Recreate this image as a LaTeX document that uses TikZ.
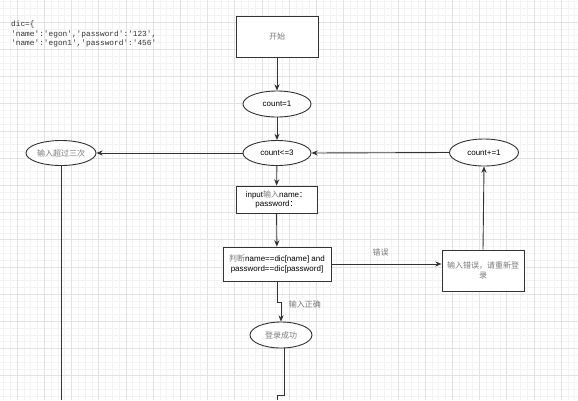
\documentclass[tikz,border=0pt]{standalone}
\usepackage{fontspec}
\setmainfont{Liberation Sans}
\setmonofont{Liberation Mono}
\newfontfamily\cjkfont{Noto Sans CJK SC}
\usepackage{xcolor}
\usepackage{tikz}
\usetikzlibrary{arrows.meta, positioning, shapes.geometric, calc}

\definecolor{inkline}{HTML}{333333}
\definecolor{zhgray}{HTML}{7A7A7A}
\definecolor{gridmajor}{HTML}{E2E2E2}
\definecolor{gridminor}{HTML}{F3F3F3}
\newcommand{\zh}[1]{{\cjkfont\color{zhgray}#1}}
\newcommand{\zhcolon}{{\cjkfont ：}}

\begin{document}
\begin{tikzpicture}[
  x=1pt, y=-1pt,
  font=\fontsize{8}{9.6}\selectfont,
  box/.style={draw=inkline, line width=0.9pt, fill=white, align=center, inner sep=2pt},
  oval/.style={draw=inkline, line width=0.9pt, ellipse, fill=white, inner sep=0pt},
  arr/.style={-{Stealth[length=2.2mm, width=1.8mm]}, line width=0.9pt, inkline},
  link/.style={line width=0.9pt, inkline},
]
\useasboundingbox (0,0) rectangle (578,400);
\fill[white] (0,0) rectangle (578,400);

% Background grid
\foreach \x in {3.4,10.2,...,578} \draw[gridminor, line width=0.4pt] (\x,0) -- (\x,400);
\foreach \y in {1.6,8.4,...,400} \draw[gridminor, line width=0.4pt] (0,\y) -- (578,\y);
\foreach \x in {17,44.2,...,578} \draw[gridmajor, line width=0.5pt] (\x,0) -- (\x,400);
\foreach \y in {22,49.2,...,400} \draw[gridmajor, line width=0.5pt] (0,\y) -- (578,\y);

% Dictionary note
\node[anchor=north west, align=left, inner sep=0pt, text=inkline,
  font=\ttfamily\fontsize{7.8}{9.4}\selectfont] (dict) at (11,21)
  {dic=\{\\'name':'egon','password':'123',\\'name':'egon1','password':'456'};

% Main column
\node[box, minimum width=82, minimum height=41] (start) at (277,36.5) {\zh{开始}};
\node[oval, minimum width=68, minimum height=26] (init) at (277,104) {count=1};
\node[oval, minimum width=68, minimum height=25] (check) at (277,153) {count<=3};
\node[box, minimum width=81, minimum height=27] (input) at (276.5,199.5)
  {input\zh{输入}name\zhcolon\\password\zhcolon};
\node[box, minimum width=108, minimum height=34] (judge) at (277,264)
  {\zh{判断}name==dic[name] and\\password==dic[password]};
\node[oval, minimum width=62, minimum height=26] (ok) at (281,335) {\zh{登录成功}};

% Side nodes
\node[oval, minimum width=70, minimum height=25] (over) at (61,153) {\zh{输入超过三次}};
\node[oval, minimum width=69, minimum height=27] (inc) at (484,152.5) {count+=1};
\node[box, minimum width=82, minimum height=41] (wrong) at (483,270.5)
  {\zh{输入错误，请重新登}\\\zh{录}};

% Free ends at the bottom edge
\coordinate (endB) at (277,400);
\coordinate (endA) at (over.south |- endB);
\coordinate (okout) at ([xshift=3]ok.south);

% Connectors
\draw[arr] (start) -- (init);
\draw[arr] (init) -- (check);
\draw[arr] (check) -- (input);
\draw[arr] (input) -- (judge);
\draw[arr] (check.west) -- (over.east);
\draw[arr] (inc.west) -- (check.east);
\draw[arr] (wrong.north) -- (inc.south);
\draw[arr] (judge.east) -- (judge.east -| wrong.west)
  node[midway, above=4pt, xshift=-6pt]{\zh{错误}};
\draw[arr] (judge.south) -- ++(0,21) -| (ok.north)
  node[pos=0.56, right=4pt]{\zh{输入正确}};
\draw[link] (over.south) -- (endA);
\draw[link] (okout) -- ++(0,47) -| (endB);
\end{tikzpicture}
\end{document}
